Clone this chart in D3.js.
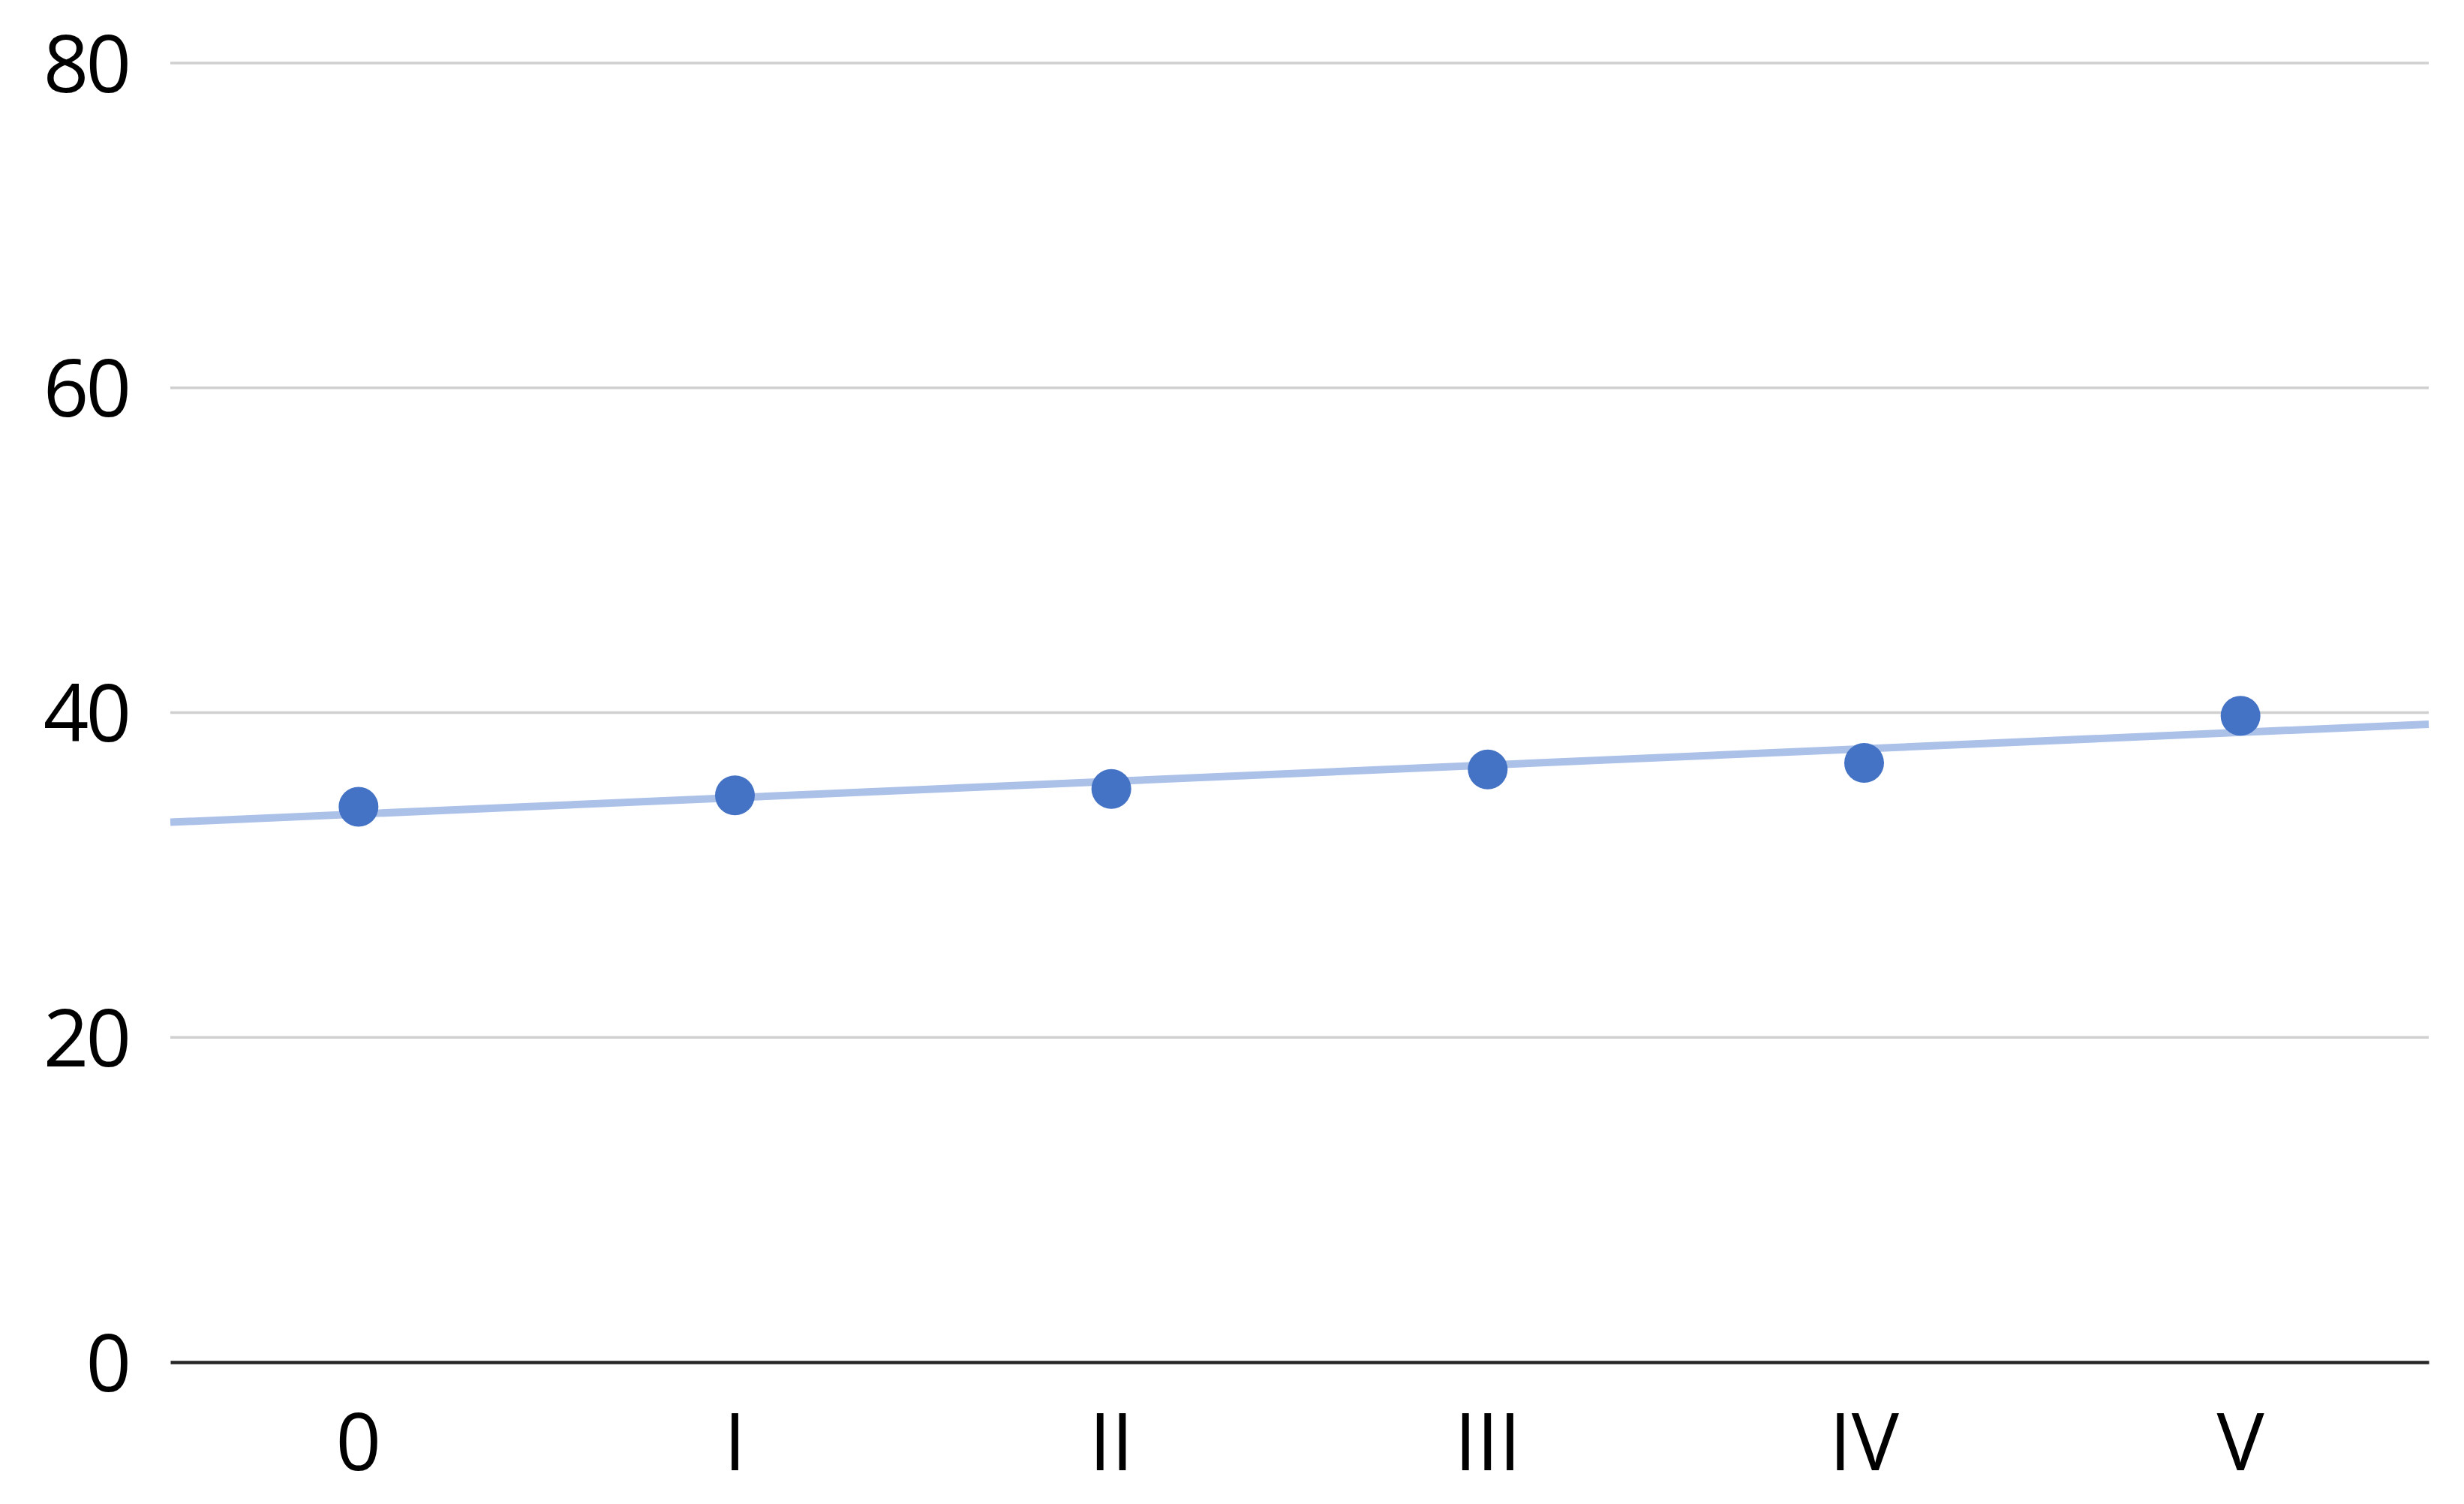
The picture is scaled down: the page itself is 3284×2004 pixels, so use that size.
<!DOCTYPE html>
<html lang="en">
<head>
    <meta charset="UTF-8">
    <title>Scatter with trendline</title>
    <script src="https://d3js.org/d3.v7.min.js"></script>
    <style>
        html, body { margin: 0; padding: 0; background: #fff; }
        text { font-family: "Open Sans", "Noto Sans", sans-serif; fill: #000; }
    </style>
</head>
<body>
    <div id="chart"></div>
    <script>
        // data
        var categories = ["0", "I", "II", "III", "IV", "V"];
        var values = [34.2, 34.9, 35.3, 36.5, 36.9, 39.8];
        var yTicks = [0, 20, 40, 60, 80];

        var width = 3284;
        var height = 2004;
        var margin = {top: 84, right: 47, bottom: 189, left: 227};

        var svg = d3.select("#chart").append("svg")
            .attr("width", width)
            .attr("height", height);

        var g = svg.append("g")
            .attr("transform", "translate(" + margin.left + "," + margin.top + ")");

        var innerW = width - margin.left - margin.right;
        var innerH = height - margin.top - margin.bottom;

        var x = d3.scaleBand()
            .domain(categories)
            .range([0, innerW]);

        var y = d3.scaleLinear()
            .domain([0, 80])
            .range([innerH, 0]);

        // gridlines
        g.selectAll(".grid")
            .data(yTicks.filter(function(d) { return d > 0; }))
            .enter().append("line")
            .attr("x1", 0)
            .attr("x2", innerW)
            .attr("y1", function(d) { return y(d); })
            .attr("y2", function(d) { return y(d); })
            .attr("stroke", "#d0d0d0")
            .attr("stroke-width", 3.5);

        // y axis labels
        var yAxis = d3.axisLeft(y).tickValues(yTicks).tickSize(0).tickPadding(56);
        g.append("g").call(yAxis)
            .call(function(s) { s.select(".domain").remove(); })
            .selectAll("text")
            .style("font-size", "106px")
            .style("letter-spacing", "-4px")
            .attr("dy", "0.36em");

        // x axis
        var xAxis = d3.axisBottom(x).tickSize(0).tickPadding(68);
        var xg = g.append("g")
            .attr("transform", "translate(0," + innerH + ")")
            .call(xAxis);
        xg.select(".domain")
            .attr("stroke", "#262626")
            .attr("stroke-width", 4.5);
        xg.selectAll("text")
            .style("font-size", "106px")
            .attr("dy", "0.72em");

        // linear trendline (least squares over category index)
        var n = values.length;
        var mx = d3.mean(values, function(d, i) { return i; });
        var my = d3.mean(values);
        var sxy = d3.sum(values, function(d, i) { return (i - mx) * (d - my); });
        var sxx = d3.sum(values, function(d, i) { return (i - mx) * (i - mx); });
        var slope = sxy / sxx;
        var intercept = my - slope * mx;

        var step = x.step();
        var idxToX = function(i) { return x(categories[0]) + x.bandwidth() / 2 + i * step; };
        var trend = [-0.5, n - 0.5].map(function(i) { return [idxToX(i), y(intercept + slope * i)]; });

        g.append("path")
            .attr("d", d3.line()(trend))
            .attr("fill", "none")
            .attr("stroke", "#abc1e8")
            .attr("stroke-width", 10);

        // points
        g.selectAll(".dot")
            .data(values)
            .enter().append("circle")
            .attr("cx", function(d, i) { return x(categories[i]) + x.bandwidth() / 2; })
            .attr("cy", function(d) { return y(d); })
            .attr("r", 26.5)
            .attr("fill", "#4472c4");
    </script>
</body>
</html>
